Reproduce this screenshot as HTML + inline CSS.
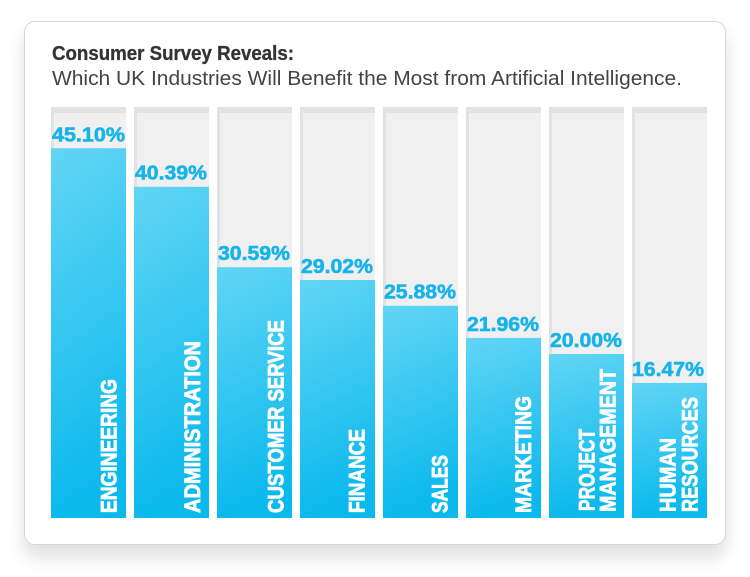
<!DOCTYPE html>
<html>
<head>
<meta charset="utf-8">
<style>
html,body{margin:0;padding:0;background:#fff;width:750px;height:577px;overflow:hidden;}
.card{position:absolute;left:24px;top:21px;width:700px;height:522px;border:1px solid #d6d6d6;border-radius:11px;background:#fff;box-shadow:0 12px 18px rgba(0,0,0,0.13);}
svg{position:absolute;left:0;top:0;}
text{font-family:"Liberation Sans",sans-serif;}
</style>
</head>
<body>
<div class="card"></div>
<svg width="750" height="577" viewBox="0 0 750 577">
<defs>
<linearGradient id="g" x1="0" y1="0" x2="0.15" y2="1">
<stop offset="0" stop-color="#62d5f5"/>
<stop offset="1" stop-color="#0bb9ed"/>
</linearGradient>
</defs>
<text x="52" y="60" font-size="20" font-weight="bold" fill="#333" stroke="#333" stroke-width="0.3" textLength="242" lengthAdjust="spacingAndGlyphs">Consumer Survey Reveals:</text>
<text x="52" y="85" font-size="20" fill="#444" textLength="630" lengthAdjust="spacingAndGlyphs">Which UK Industries Will Benefit the Most from Artificial Intelligence.</text>

<g id="bgs">
<rect x="51" y="107" width="75" height="411" fill="#e2e2e2"/><rect x="54" y="113" width="72" height="405" fill="#f0f0f0"/>
<rect x="134" y="107" width="75" height="411" fill="#e2e2e2"/><rect x="137" y="113" width="72" height="405" fill="#f0f0f0"/>
<rect x="217" y="107" width="75" height="411" fill="#e2e2e2"/><rect x="220" y="113" width="72" height="405" fill="#f0f0f0"/>
<rect x="300" y="107" width="75" height="411" fill="#e2e2e2"/><rect x="303" y="113" width="72" height="405" fill="#f0f0f0"/>
<rect x="383" y="107" width="75" height="411" fill="#e2e2e2"/><rect x="386" y="113" width="72" height="405" fill="#f0f0f0"/>
<rect x="466" y="107" width="75" height="411" fill="#e2e2e2"/><rect x="469" y="113" width="72" height="405" fill="#f0f0f0"/>
<rect x="549" y="107" width="75" height="411" fill="#e2e2e2"/><rect x="552" y="113" width="72" height="405" fill="#f0f0f0"/>
<rect x="632" y="107" width="75" height="411" fill="#e2e2e2"/><rect x="635" y="113" width="72" height="405" fill="#f0f0f0"/>
</g>

<g fill="url(#g)">
<rect x="51" y="148.2" width="75" height="369.8"/>
<rect x="134" y="186.8" width="75" height="331.2"/>
<rect x="217" y="267.2" width="75" height="250.8"/>
<rect x="300" y="280" width="75" height="238"/>
<rect x="383" y="305.8" width="75" height="212.2"/>
<rect x="466" y="337.9" width="75" height="180.1"/>
<rect x="549" y="354" width="75" height="164"/>
<rect x="632" y="382.9" width="75" height="135.1"/>
</g>

<g font-size="20" font-weight="bold" fill="#17b4ea" stroke="#17b4ea" stroke-width="0.6">
<text x="52" y="141.5" textLength="73" lengthAdjust="spacingAndGlyphs">45.10%</text>
<text x="135" y="179.5" textLength="72" lengthAdjust="spacingAndGlyphs">40.39%</text>
<text x="218" y="260" textLength="72" lengthAdjust="spacingAndGlyphs">30.59%</text>
<text x="301" y="273" textLength="72" lengthAdjust="spacingAndGlyphs">29.02%</text>
<text x="384" y="298.5" textLength="72" lengthAdjust="spacingAndGlyphs">25.88%</text>
<text x="467" y="331" textLength="72" lengthAdjust="spacingAndGlyphs">21.96%</text>
<text x="550" y="347" textLength="72" lengthAdjust="spacingAndGlyphs">20.00%</text>
<text x="632" y="376" textLength="72" lengthAdjust="spacingAndGlyphs">16.47%</text>
</g>

<g font-size="22" font-weight="bold" fill="#fff" stroke="#fff" stroke-width="0.8">
<text transform="translate(116.5,513) rotate(-90)" textLength="134" lengthAdjust="spacingAndGlyphs">ENGINEERING</text>
<text transform="translate(200,513) rotate(-90)" textLength="172" lengthAdjust="spacingAndGlyphs">ADMINISTRATION</text>
<text transform="translate(283.5,513) rotate(-90)" textLength="193" lengthAdjust="spacingAndGlyphs">CUSTOMER SERVICE</text>
<text transform="translate(364.5,513) rotate(-90)" textLength="84" lengthAdjust="spacingAndGlyphs">FINANCE</text>
<text transform="translate(447.5,513) rotate(-90)" textLength="58" lengthAdjust="spacingAndGlyphs">SALES</text>
<text transform="translate(531,513) rotate(-90)" textLength="117" lengthAdjust="spacingAndGlyphs">MARKETING</text>
<text transform="translate(594.5,511) rotate(-90)" textLength="82" lengthAdjust="spacingAndGlyphs">PROJECT</text>
<text transform="translate(615.5,512) rotate(-90)" textLength="143" lengthAdjust="spacingAndGlyphs">MANAGEMENT</text>
<text transform="translate(675.5,512) rotate(-90)" textLength="74" lengthAdjust="spacingAndGlyphs">HUMAN</text>
<text transform="translate(697.5,512) rotate(-90)" textLength="115" lengthAdjust="spacingAndGlyphs">RESOURCES</text>
</g>
</svg>
</body>
</html>
